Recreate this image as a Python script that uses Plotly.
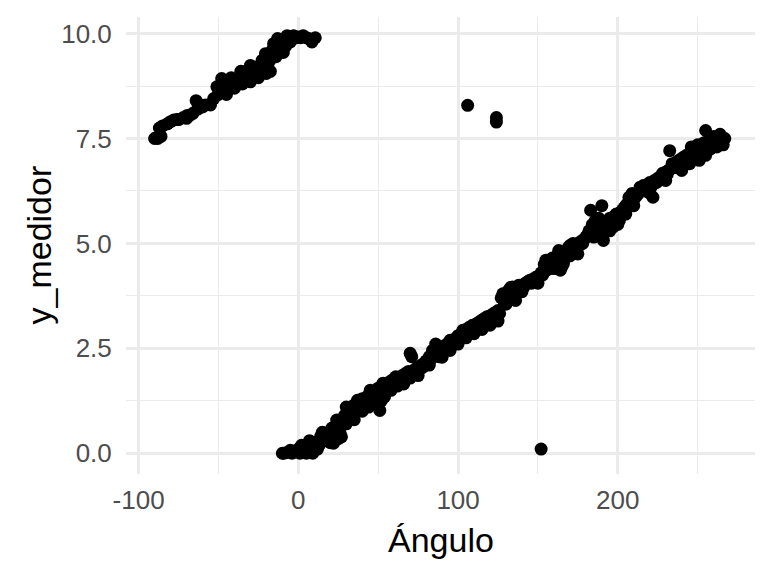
import plotly.graph_objects as go

# Upper band (wrap-around segment)
angulo_superior = [-90, -89, -88, -86, -87, -85, -82, -80, -78, -76, -75, -72, -70, -69.6, -68,
                   -66, -64, -63, -61, -60, -58, -55, -53, -51, -50, -48, -46, -45, -43, -42.5,
                   -40, -38, -36, -35, -32, -30, -28, -26, -25, -23, -22.7, -21, -20.6, -19.6, -18,
                   -17.5, -16.4, -15.5, -14, -13, -11, -9.4, -8, -7, -5, -3, -1, 0, 1.5, 3,
                   5, 6.5, 8.5, 10.6,
                   -48, -45, -42, -40, -35, -33, -30, -27, -25, -20]
y_superior = [7.5, 7.52, 7.5, 7.55, 7.75, 7.8, 7.85, 7.9, 7.94, 7.95, 7.95, 8.0, 7.98, 8.05, 8.05,
              8.1, 8.4, 8.2, 8.3, 8.25, 8.3, 8.3, 8.45, 8.73, 8.55, 8.93, 8.8, 8.7, 8.85, 8.85,
              8.88, 8.9, 9.1, 8.95, 9.0, 9.24, 8.96, 9.1, 9.15, 9.2, 9.36, 9.3, 9.52, 9.17, 9.35,
              9.1, 9.6, 9.76, 9.45, 9.88, 9.6, 9.55, 9.7, 9.95, 9.8, 9.95, 9.9, 9.92, 9.9, 9.95,
              9.9, 9.88, 9.8, 9.9,
              8.6, 8.55, 8.95, 8.7, 8.8, 9.1, 8.85, 9.2, 8.95, 9.05]

# Lower band (main linear segment)
angulo_inferior = [-10, -9, -7, -5, -4, -2, 0, 1, 2, 3, 4, 5, 6, 7, 8, 9, 10, 11, 12, 13,
                   14, 15, 16, 17, 18, 19, 20, 21, 22, 23, 24, 25, 26, 27, 28, 29, 30, 31, 32, 33,
                   34, 35, 36, 37, 38, 39, 40, 41, 42, 43, 44, 45, 46, 47, 48, 49, 50, 51, 52, 53,
                   54, 55, 56, 57, 58, 59, 60, 61, 62, 63, 64, 65, 66, 67, 68, 69, 70, 70, 71, 72,
                   73, 74, 75, 76, 77, 78, 79, 80, 81, 82, 83, 84, 85, 86, 87, 88, 89, 90, 91, 92,
                   93, 94, 95, 96, 97, 98, 99, 100, 101, 102, 103, 104, 105, 106, 107, 108, 109, 110, 111, 112,
                   113, 114, 115, 116, 117, 118, 119, 120, 121, 122, 123, 124, 125, 126, 127, 128, 129, 130, 131, 132,
                   133, 134, 135, 136, 137, 138, 139, 140, 141, 142, 143, 144, 145, 146, 147, 148, 149, 150, 151, 152,
                   153, 154, 155, 156, 157, 158, 159, 160, 161, 162, 163, 164, 165, 166, 167, 168, 169, 170, 171, 172,
                   173, 174, 175, 176, 177, 178, 179, 180, 181, 182, 184, 185, 186, 187, 188, 189, 191, 192, 193, 194,
                   195, 196, 197, 198, 199, 200, 201, 202, 203, 204, 205, 206, 207, 208, 209, 210, 211, 212, 213, 214,
                   215, 216, 217, 218, 219, 220, 221, 222, 223, 224, 225, 226, 227, 228, 229, 230, 231, 232, 234, 235,
                   236, 237, 238, 239, 240, 241, 242, 243, 244, 245, 246, 247, 248, 249, 250, 251, 252, 253, 254, 255,
                   256, 257, 258, 259, 260, 261, 262, 263, 264, 265, 266, 267,
                   20, 25, 30, 35, 40, 44, 48, 50, 52, 54, 58, 62, 66, 75, 82, 88, 95, 100, 105, 110,
                   115, 120, 125, 130, 135, 140, 150, 155, 160, 170, 175, 185, 188, 190, 195, 198, 200, 205, 210, 220,
                   230, 240, 245, 246, 250, 250, 255, 258, 260, 262, 264, 266]
y_inferior = [0.0, 0.0, 0.02, 0.07, 0.0, 0.03, 0.1, 0.0, 0.19, 0.05, 0.12, 0.0, 0.2, 0.3, 0.08, 0.0, 0.15, 0.25, 0.1, 0.19,
              0.4, 0.5, 0.3, 0.42, 0.35, 0.5, 0.45, 0.6, 0.24, 0.55, 0.79, 0.65, 0.5, 0.39, 0.8, 0.9, 1.1, 0.85, 0.95, 1.05,
              0.9, 1.15, 0.98, 1.26, 1.1, 1.2, 1.3, 1.15, 1.25, 1.35, 1.3, 1.5, 1.4, 1.35, 1.45, 1.5, 1.55, 1.02, 1.4, 1.67,
              1.55, 1.6, 1.5, 1.7, 1.65, 1.75, 1.7, 1.82, 1.75, 1.8, 1.7, 1.85, 1.8, 1.9, 1.85, 1.95, 1.79, 2.38, 2.3, 1.95,
              2.0, 1.94, 2.05, 2.0, 2.1, 2.05, 2.15, 2.2, 2.15, 2.3, 2.25, 2.45, 2.35, 2.6, 2.4, 2.5, 2.45, 2.29, 2.55, 2.5,
              2.6, 2.55, 2.69, 2.62, 2.7, 2.65, 2.75, 2.8, 2.75, 2.85, 2.93, 2.85, 2.95, 2.9, 3.0, 2.95, 3.05, 3.0, 2.93, 3.1,
              3.05, 3.15, 3.1, 3.2, 3.15, 3.25, 3.2, 3.2, 3.3, 3.25, 3.35, 3.3, 3.4, 3.33, 3.7, 3.8, 3.6, 3.75, 3.85, 3.9,
              3.95, 3.96, 3.85, 3.64, 3.9, 4.0, 3.95, 4.0, 3.95, 4.05, 4.05, 4.1, 4.12, 4.05, 4.15, 4.1, 4.2, 4.15, 4.2, 4.3,
              4.25, 4.5, 4.6, 4.52, 4.4, 4.55, 4.65, 4.6, 4.5, 4.7, 4.83, 4.36, 4.44, 4.52, 4.75, 4.8, 4.9, 4.95, 4.85, 5.0,
              4.9, 4.83, 5.0, 4.95, 5.05, 5.0, 5.1, 5.15, 5.2, 5.3, 5.45, 5.35, 5.55, 5.39, 5.6, 5.4, 5.07, 5.3, 5.5, 5.45,
              5.6, 5.5, 5.39, 5.65, 5.7, 5.6, 5.55, 5.75, 5.8, 5.85, 5.9, 5.95, 6.1, 6.0, 6.19, 6.05, 6.1, 6.15, 6.2, 6.34,
              6.3, 6.38, 6.25, 6.4, 6.3, 6.45, 6.35, 6.1, 6.5, 6.45, 6.55, 6.5, 6.6, 6.67, 6.6, 6.7, 6.65, 6.75, 6.9, 6.8,
              6.85, 6.95, 6.9, 7.0, 6.74, 7.05, 6.95, 7.1, 7.0, 7.14, 7.05, 7.2, 7.1, 7.25, 7.15, 6.98, 7.3, 7.2, 7.4, 7.69,
              7.35, 7.45, 7.4, 7.5, 7.35, 7.45, 7.5, 7.4, 7.5, 7.5, 7.45, 7.5,
              0.25, 0.35, 0.7, 0.8, 1.0, 1.1, 1.2, 1.15, 1.25, 1.35, 1.5, 1.6, 1.65, 1.85, 2.1, 2.3, 2.45, 2.6, 2.75, 2.85,
              2.95, 3.05, 3.15, 3.55, 3.7, 3.85, 4.05, 4.35, 4.4, 4.7, 4.75, 5.15, 5.25, 5.2, 5.3, 5.45, 5.45, 5.7, 5.9, 6.2,
              6.5, 6.8, 6.9, 7.3, 7.0, 7.35, 7.1, 7.25, 7.55, 7.3, 7.6, 7.35]

# Isolated points
angulo_atipicos = [106, 124, 124, 152, 183, 190, 232.5]
y_atipicos = [8.29, 8.0, 7.89, 0.1, 5.79, 5.9, 7.21]

x_todos = angulo_superior + angulo_inferior + angulo_atipicos
y_todos = y_superior + y_inferior + y_atipicos

x_ticks = [-100, 0, 100, 200]
x_ticklabels = ["-100", "0", "100", "200"]
y_ticks = [0, 2.5, 5, 7.5, 10]
y_ticklabels = ["0.0", "2.5", "5.0", "7.5", "10.0"]

font_family = "Liberation Sans, Arial, sans-serif"

fig = go.Figure()
fig.add_trace(go.Scatter(
    x=x_todos, y=y_todos, mode="markers",
    marker=dict(color="black", size=13, line=dict(width=0)),
    hoverinfo="skip", showlegend=False,
))

# page body has an 8px margin, so the figure is 760x568 and offset accordingly
fig.update_layout(
    width=760, height=568,
    paper_bgcolor="white", plot_bgcolor="white",
    margin=dict(l=118, r=13, t=9, b=102),
    font=dict(family=font_family),
    showlegend=False,
    xaxis=dict(
        range=[-107.9, 285.9], tickmode="array", tickvals=x_ticks, ticktext=x_ticklabels,
        showgrid=True, gridcolor="#EBEBEB", gridwidth=2.7,
        minor=dict(tickmode="array", tickvals=[-50, 50, 150, 250], showgrid=True,
                   gridcolor="#EBEBEB", gridwidth=1.4),
        zeroline=False, showline=False,
        ticks="outside", ticklen=3, tickcolor="rgba(0,0,0,0)",
        tickfont=dict(size=26, color="#4D4D4D", family=font_family),
    ),
    yaxis=dict(
        range=[-0.495, 10.395], tickmode="array", tickvals=y_ticks, ticktext=y_ticklabels,
        showgrid=True, gridcolor="#EBEBEB", gridwidth=2.7,
        minor=dict(tickmode="array", tickvals=[1.25, 3.75, 6.25, 8.75], showgrid=True,
                   gridcolor="#EBEBEB", gridwidth=1.4),
        zeroline=False, showline=False,
        ticks="outside", ticklen=8, tickcolor="rgba(0,0,0,0)",
        tickfont=dict(size=26, color="#4D4D4D", family=font_family),
    ),
    annotations=[
        dict(text="Ángulo", xref="paper", yref="paper", x=0.5, y=0, yshift=-66,
             xanchor="center", yanchor="middle", showarrow=False,
             font=dict(size=34, color="black", family=font_family)),
        dict(text="y_medidor", xref="paper", yref="paper", x=0, y=0.5, xshift=-88,
             xanchor="center", yanchor="middle", showarrow=False, textangle=-90,
             font=dict(size=34, color="black", family=font_family)),
    ],
)

fig.write_html("out.html")
